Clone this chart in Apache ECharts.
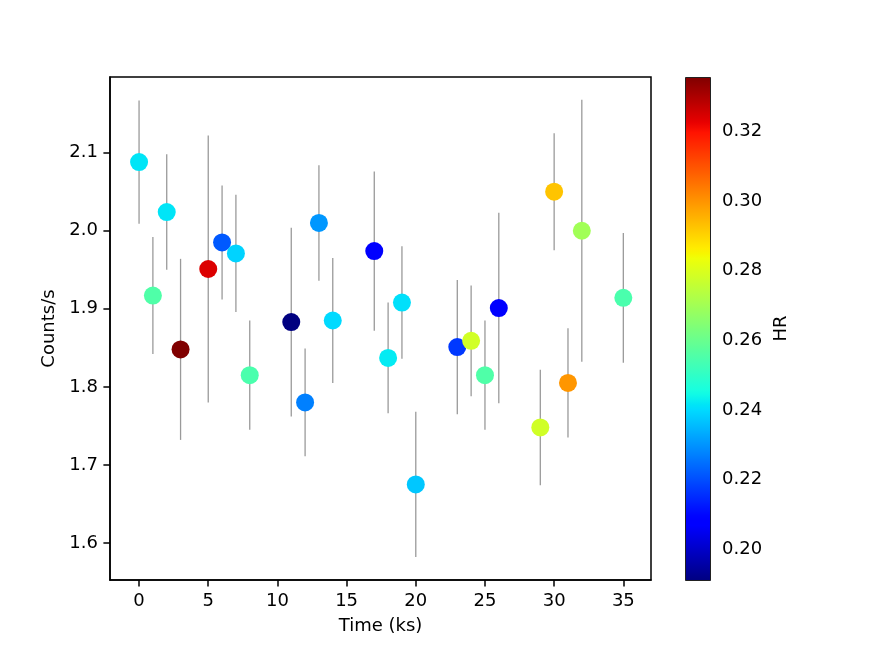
<!DOCTYPE html>
<html>
<head>
<meta charset="utf-8">
<script src="https://cdn.jsdelivr.net/npm/echarts@6/dist/echarts.min.js"></script>
<style>
  html, body { margin: 0; padding: 0; background: #fff; }
  #chart { width: 872px; height: 653px; }
</style>
</head>
<body>
<div id="chart"></div>
<script>
/* light curve: count rate vs time, coloured by hardness ratio */
var time = [0, 1, 2, 3, 5, 6, 7, 8, 11, 12, 13, 14, 17, 18, 19, 20, 23, 24, 25, 26, 29, 30, 31, 32, 35];
var rate = [2.088, 1.917, 2.024, 1.848, 1.951, 1.985, 1.971, 1.815, 1.883, 1.780, 2.010, 1.885, 1.974,
            1.837, 1.908, 1.675, 1.851, 1.859, 1.815, 1.901, 1.748, 2.050, 1.805, 2.000, 1.914];
var rateErr = [0.079, 0.075, 0.074, 0.116, 0.171, 0.073, 0.075, 0.070, 0.121, 0.069, 0.074, 0.080, 0.102,
               0.071, 0.072, 0.093, 0.086, 0.071, 0.070, 0.122, 0.074, 0.075, 0.070, 0.168, 0.083];
var hr = [0.2416, 0.2555, 0.2416, 0.3355, 0.324, 0.2217, 0.239, 0.2546, 0.191, 0.2271, 0.2304, 0.240, 0.208,
          0.2423, 0.2409, 0.2372, 0.217, 0.2783, 0.2555, 0.2076, 0.278, 0.2924, 0.2995, 0.2698, 0.2546];
var xTicks = [0, 5, 10, 15, 20, 25, 30, 35];
var yTicks = [1.6, 1.7, 1.8, 1.9, 2.0, 2.1];
var hrTicks = [0.20, 0.22, 0.24, 0.26, 0.28, 0.30, 0.32];

(function(){
  var font = 'DejaVu Sans';
  var fs = 18;
  var ink = '#000';
  var hrMin = Math.min.apply(null, hr), hrMax = Math.max.apply(null, hr);

  // matplotlib "jet" segment data
  var seg = {
    r: [[0, 0], [0.35, 0], [0.66, 1], [0.89, 1], [1, 0.5]],
    g: [[0, 0], [0.125, 0], [0.375, 1], [0.64, 1], [0.91, 0], [1, 0]],
    b: [[0, 0.5], [0.11, 1], [0.34, 1], [0.65, 0], [1, 0]]
  };
  function ch(s, t) {
    for (var i = 1; i < s.length; i++) {
      if (t <= s[i][0]) {
        var a = s[i - 1], b = s[i];
        return a[1] + (b[1] - a[1]) * (t - a[0]) / (b[0] - a[0]);
      }
    }
    return s[s.length - 1][1];
  }
  function jet(t) {
    return 'rgb(' + Math.round(ch(seg.r, t) * 255) + ',' + Math.round(ch(seg.g, t) * 255) + ',' + Math.round(ch(seg.b, t) * 255) + ')';
  }
  var jetColors = [], stops = [];
  for (var i = 0; i <= 100; i++) {
    jetColors.push(jet(i / 100));
    stops.push({ offset: i / 100, color: jet(i / 100) });
  }

  var pts = time.map(function(t, i){ return [t, rate[i], hr[i]]; });
  var bars = time.map(function(t, i){ return [t, rate[i] - rateErr[i], rate[i] + rateErr[i]]; });

  var c = echarts.init(document.getElementById('chart'));
  var tickStyle = { color: ink, width: 1.5 };
  c.setOption({
    backgroundColor: '#fff',
    animation: false,
    textStyle: { fontFamily: font },
    grid: [
      { left: 110, top: 77, width: 541, height: 503, show: true, borderColor: ink, borderWidth: 1.5, backgroundColor: 'transparent' },
      { left: 685, top: 77, width: 25, height: 503, show: false }
    ],
    xAxis: [{
      type: 'value', min: -2.1, max: 37, gridIndex: 0,
      name: 'Time (ks)', nameLocation: 'middle', nameGap: 37,
      nameTextStyle: { color: ink, fontSize: fs, fontFamily: font },
      axisLine: { show: true, onZero: false, lineStyle: tickStyle },
      axisTick: { show: true, inside: false, length: 6.6, lineStyle: tickStyle, customValues: xTicks },
      axisLabel: { color: ink, fontSize: fs, fontFamily: font, margin: 12, customValues: xTicks },
      splitLine: { show: false }
    }, {
      type: 'value', min: 0, max: 1, gridIndex: 1, show: false
    }],
    yAxis: [{
      type: 'value', min: 1.5525, max: 2.197, gridIndex: 0,
      name: 'Counts/s', nameLocation: 'middle', nameGap: 52, nameRotate: 90,
      nameTextStyle: { color: ink, fontSize: fs, fontFamily: font },
      axisLine: { show: true, onZero: false, lineStyle: tickStyle },
      axisTick: { show: true, inside: false, length: 6.6, lineStyle: tickStyle, customValues: yTicks },
      axisLabel: { color: ink, fontSize: fs, fontFamily: font, margin: 12, customValues: yTicks,
        formatter: function(v){ return v.toFixed(1); } },
      splitLine: { show: false }
    }, {
      type: 'value', min: 0.1912, max: 0.3356, gridIndex: 1, position: 'right',
      name: 'HR', nameLocation: 'middle', nameGap: 62, nameRotate: 90,
      nameTextStyle: { color: ink, fontSize: fs, fontFamily: font },
      axisLine: { show: false },
      axisTick: { show: true, inside: false, length: 6.6, lineStyle: tickStyle, customValues: hrTicks },
      axisLabel: { color: ink, fontSize: fs, fontFamily: font, margin: 12, customValues: hrTicks,
        formatter: function(v){ return v.toFixed(2); } },
      splitLine: { show: false }
    }],
    visualMap: {
      show: false, type: 'continuous', seriesIndex: 1, dimension: 2,
      min: hrMin, max: hrMax, inRange: { color: jetColors }
    },
    graphic: [{
      type: 'rect', left: 685, top: 77, z: 10,
      shape: { width: 25, height: 503 },
      style: { fill: new echarts.graphic.LinearGradient(0, 1, 0, 0, stops), stroke: '#222', lineWidth: 1 }
    }],
    series: [{
      type: 'custom', xAxisIndex: 0, yAxisIndex: 0, data: bars, z: 1,
      renderItem: function(params, api){
        var lo = api.coord([api.value(0), api.value(1)]);
        var hi = api.coord([api.value(0), api.value(2)]);
        return { type: 'line', shape: { x1: lo[0], y1: lo[1], x2: hi[0], y2: hi[1] },
          style: { stroke: '#9a9a9a', lineWidth: 1.3 } };
      }
    }, {
      type: 'scatter', xAxisIndex: 0, yAxisIndex: 0, data: pts, z: 2,
      symbol: 'circle', symbolSize: 18, itemStyle: { opacity: 1 }
    }]
  });
})();
</script>
</body>
</html>
